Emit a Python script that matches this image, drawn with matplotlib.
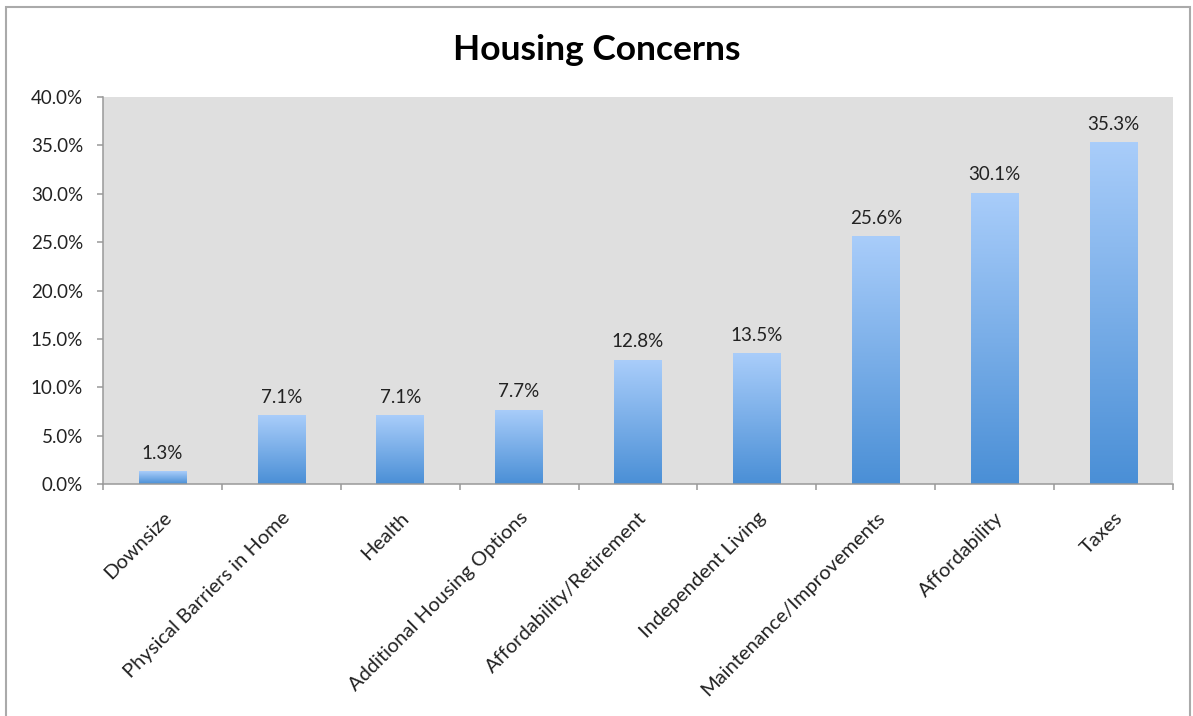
import numpy as np
import matplotlib
matplotlib.use('Agg')
import matplotlib.pyplot as plt
import matplotlib.transforms as mtransforms
from matplotlib.ticker import PercentFormatter
from matplotlib.colors import LinearSegmentedColormap
from matplotlib.patches import Rectangle

categories = ['Downsize', 'Physical Barriers in Home', 'Health',
              'Additional Housing Options', 'Affordability/Retirement',
              'Independent Living', 'Maintenance/Improvements',
              'Affordability', 'Taxes']
values = [1.3, 7.1, 7.1, 7.7, 12.8, 13.5, 25.6, 30.1, 35.3]

plt.rcParams['font.family'] = ['Lato', 'DejaVu Sans']

fig = plt.figure(figsize=(11.93, 7.16), dpi=100)
ax = fig.add_axes([103/1193, 1 - 484/716, (1173-103)/1193, (484-97)/716])
ax.set_facecolor('#dfdfdf')

x = np.arange(len(categories))
bars = ax.bar(x, values, width=0.40, color='none', edgecolor='none')

# vertical gradient, light on top, darker at the bottom
cmap = LinearSegmentedColormap.from_list('blu', ['#4a8fd6', '#a9cdfa'])
grad = np.linspace(0, 1, 256).reshape(-1, 1)
for b in bars:
    x0, w, h = b.get_x(), b.get_width(), b.get_height()
    im = ax.imshow(grad, cmap=cmap, origin='lower', aspect='auto',
                   extent=[x0, x0 + w, 0, h], zorder=2)
    im.set_clip_path(b)
    ax.text(x0 + w/2, h + 1.0, f'{h:.1f}%', ha='center', va='bottom',
            fontsize=13.5, color='#222222')

ax.set_xlim(-0.5, len(categories) - 0.5)
ax.set_ylim(0, 40)
ax.set_yticks(np.arange(0, 40.1, 5))
ax.yaxis.set_major_formatter(PercentFormatter(decimals=1))

ax.set_xticks(x)
ax.set_xticklabels(categories, rotation=45, ha='right', va='top',
                   rotation_mode='anchor', fontsize=14.5, color='#222222')
shift = mtransforms.ScaledTranslation(4/100, 0, fig.dpi_scale_trans)
for lab in ax.get_xticklabels():
    lab.set_transform(lab.get_transform() + shift)
ax.set_xticks(np.arange(-0.5, len(categories), 1), minor=True)
ax.tick_params(axis='x', which='major', length=0, pad=18)
ax.tick_params(axis='x', which='minor', length=4, color='#999999', width=1.1)
ax.tick_params(axis='y', length=4.3, color='#999999', width=1.1, labelsize=13.5,
               labelcolor='#222222', pad=10)

for s in ['top', 'right']:
    ax.spines[s].set_visible(False)
for s in ['left', 'bottom']:
    ax.spines[s].set_color('#999999')
    ax.spines[s].set_linewidth(1.1)

fig.text(0.5, 1 - 50/716, 'Housing Concerns', ha='center', va='center',
         fontsize=25.5, fontweight='bold')

# outer frame of the chart
fig.patches.append(Rectangle((6/1193, -0.05), (1190-6)/1193, 1 - 7/716 + 0.05,
                             transform=fig.transFigure, fill=False,
                             edgecolor='#aaaaaa', linewidth=1.5))

plt.savefig('out.png', dpi=100)
